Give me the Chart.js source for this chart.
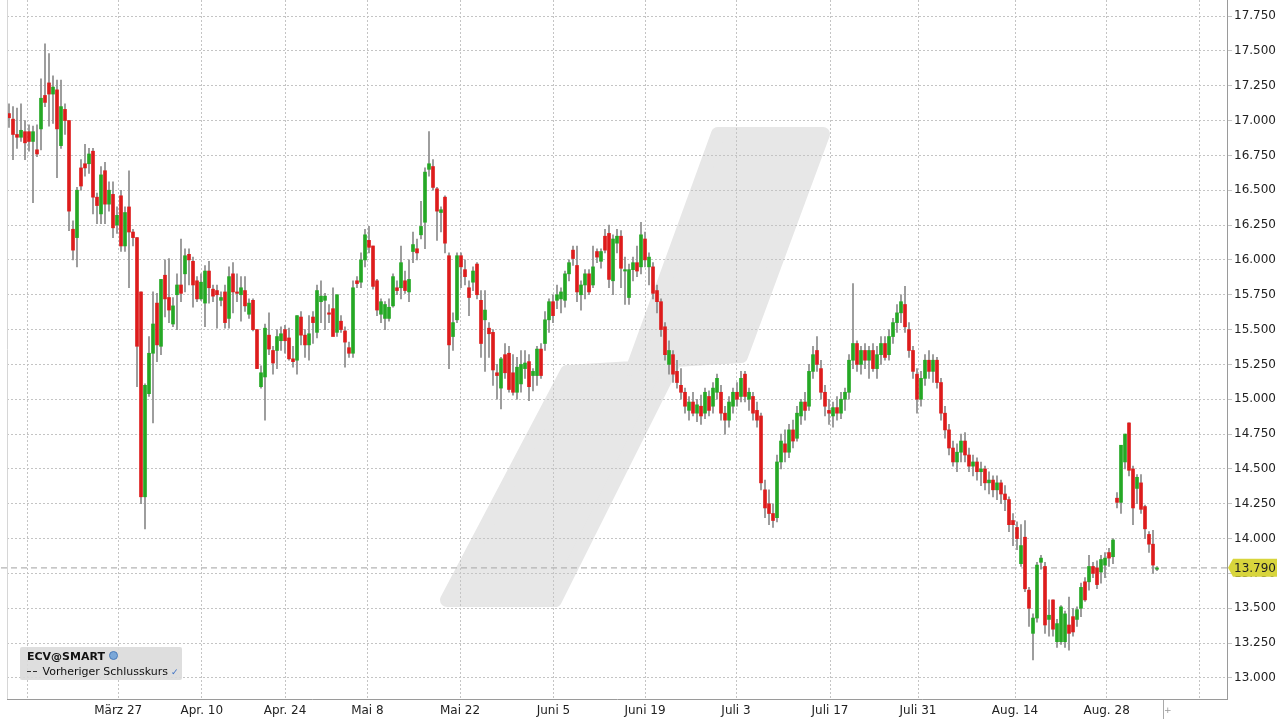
<!DOCTYPE html>
<html>
<head>
<meta charset="utf-8">
<script src="https://cdn.jsdelivr.net/npm/chart.js@4.4.1/dist/chart.umd.min.js"></script>
<style>
    html, body { margin: 0; padding: 0; background: #fff; }
    #wrap { position: relative; width: 1280px; height: 720px; }
    #legendBox {
        position: absolute; left: 20px; top: 647px; width: 162px; height: 33px;
        background: rgba(218, 218, 218, 0.9); border-radius: 2px;
        font-family: "DejaVu Sans", Verdana, sans-serif; font-size: 11px; color: #111;
    }
    #legendBox .l1 { position: absolute; left: 7px; top: 3px; font-weight: bold; }
    #legendBox .l2 { position: absolute; left: 7px; top: 18px; }
    .globe { display: inline-block; width: 7px; height: 7px; border-radius: 50%; background: #7aa7d8; border: 1px solid #4a7ab8; margin-left: 4px; vertical-align: 0px; }
    .dash { display: inline-block; width: 4px; border-top: 1.5px solid #333; vertical-align: 3px; margin-right: 2px; }
    .check { color: #3a6fc4; font-size: 9px; margin-left: 3px; }
</style>
</head>
<body>
<div id="wrap">
    <canvas id="priceChart" width="1280" height="720"></canvas>
    <div id="legendBox">
        <div class="l1">ECV@SMART<span class="globe"></span></div>
        <div class="l2"><span class="dash"></span><span class="dash"></span> Vorheriger Schlusskurs<span class="check">&#10003;</span></div>
    </div>
</div>
<script>
// candle values (one candle every ~4px)
const opens = [
    17.05,17.01,16.90,16.88,16.92,16.92,16.85,16.79,16.94,17.18,17.27,17.19,17.22,16.82,17.08,17.00,16.22,16.16,16.66,16.69,
    16.69,16.78,16.45,16.33,16.64,16.40,16.47,16.25,16.46,16.10,16.38,16.20,16.16,15.77,14.30,15.04,15.33,15.69,15.38,15.89,
    15.73,15.54,15.75,15.82,15.90,16.04,15.99,15.85,15.72,15.69,15.92,15.79,15.78,15.71,15.77,15.58,15.90,15.77,15.75,15.78,
    15.61,15.71,15.50,15.09,15.16,15.46,15.35,15.35,15.42,15.50,15.44,15.29,15.28,15.59,15.46,15.39,15.59,15.48,15.70,15.71,
    15.62,15.65,15.48,15.56,15.49,15.37,15.33,15.85,15.84,16.00,16.14,16.10,15.85,15.61,15.58,15.58,15.67,15.80,15.80,15.85,
    15.77,16.06,16.08,16.18,16.27,16.65,16.67,16.51,16.34,16.45,16.03,15.45,15.57,16.03,15.93,15.80,15.84,15.97,15.71,15.57,
    15.51,15.48,15.19,15.08,15.32,15.33,15.19,15.05,15.11,15.22,15.27,15.17,15.17,15.36,15.40,15.57,15.70,15.71,15.72,15.71,
    15.90,16.07,15.96,15.75,15.82,15.90,15.82,16.06,15.99,16.17,16.19,15.85,16.12,16.17,15.92,15.73,15.93,15.98,15.95,16.15,
    15.95,15.95,15.78,15.70,15.52,15.25,15.32,15.20,15.10,15.05,14.92,14.98,14.90,14.95,14.90,15.02,14.95,15.05,15.05,14.90,
    14.85,14.95,15.05,15.02,15.18,15.00,15.02,14.92,14.88,14.35,14.25,14.18,14.15,14.55,14.68,14.62,14.78,14.72,14.88,14.98,
    14.95,15.20,15.35,15.22,15.05,14.92,14.88,14.94,14.90,15.00,15.05,15.28,15.40,15.25,15.35,15.28,15.35,15.22,15.32,15.40,
    15.32,15.45,15.55,15.62,15.68,15.50,15.35,15.18,15.00,15.15,15.28,15.20,15.28,15.12,14.90,14.78,14.65,14.55,14.62,14.70,
    14.60,14.52,14.55,14.48,14.50,14.40,14.42,14.35,14.40,14.32,14.28,14.13,14.08,13.82,14.01,13.63,13.32,13.43,13.83,13.80,
    13.42,13.56,13.26,13.26,13.26,13.38,13.44,13.42,13.50,13.69,13.69,13.80,13.79,13.76,13.81,13.90,13.87,14.29,14.26,14.55,
    14.83,14.50,14.36,14.40,14.23,14.03,13.96,13.78
];
const highs = [
    17.12,17.10,17.09,17.12,17.00,16.97,16.96,16.97,17.30,17.55,17.48,17.32,17.29,17.29,17.12,17.00,16.28,16.52,16.72,16.83,
    16.80,16.80,16.48,16.67,16.70,16.56,16.56,16.38,16.50,16.38,16.64,16.22,16.16,15.77,15.11,15.45,15.77,15.76,15.86,16.00,
    16.01,15.73,15.90,16.15,16.08,16.08,16.02,15.88,15.90,15.96,15.99,15.82,15.82,15.77,15.82,15.95,15.98,15.90,15.88,15.88,
    15.72,15.72,15.50,15.24,15.54,15.62,15.38,15.50,15.52,15.53,15.51,15.38,15.60,15.63,15.50,15.60,15.63,15.82,15.85,15.76,
    15.68,15.80,15.75,15.60,15.52,15.41,15.85,15.88,16.05,16.22,16.24,16.10,15.86,15.72,15.70,15.72,15.90,15.85,16.10,15.92,
    16.00,16.20,16.15,16.42,16.66,16.92,16.72,16.52,16.38,16.46,16.05,15.62,16.05,16.05,16.00,15.85,15.95,15.98,15.78,15.78,
    15.55,15.50,15.25,15.30,15.40,15.38,15.32,15.30,15.35,15.35,15.32,15.22,15.38,15.40,15.63,15.72,15.75,15.82,15.80,15.92,
    16.00,16.10,16.10,15.85,15.93,15.93,16.10,16.08,16.08,16.22,16.25,16.18,16.22,16.21,16.02,15.97,16.02,16.10,16.27,16.20,
    16.05,15.98,15.82,15.72,15.55,15.42,15.35,15.28,15.22,15.08,15.02,15.05,15.00,15.03,15.08,15.06,15.12,15.18,15.10,14.95,
    15.02,15.08,15.12,15.20,15.20,15.08,15.05,14.98,14.90,14.42,14.35,14.25,14.60,14.75,14.78,14.82,14.85,14.95,15.00,15.05,
    15.25,15.38,15.45,15.28,15.10,15.00,14.98,15.02,15.05,15.08,15.32,15.83,15.42,15.38,15.40,15.38,15.40,15.38,15.45,15.45,
    15.50,15.58,15.68,15.75,15.81,15.55,15.38,15.22,15.20,15.32,15.35,15.32,15.30,15.15,14.95,14.82,14.70,14.68,14.75,14.76,
    14.65,14.60,14.58,14.55,14.52,14.48,14.45,14.45,14.42,14.38,14.30,14.18,14.12,14.10,14.13,13.65,13.46,13.83,13.88,13.83,
    13.56,13.56,13.42,13.52,13.48,13.58,13.50,13.51,13.68,13.72,13.88,13.83,13.84,13.88,13.90,13.93,14.00,14.33,14.67,14.75,
    14.83,14.52,14.46,14.46,14.24,14.05,14.06,13.80
];
const lows = [
    16.95,16.72,16.80,16.85,16.72,16.78,16.41,16.74,16.79,17.10,16.96,16.98,16.59,16.80,16.90,16.21,16.00,15.95,16.50,16.60,
    16.62,16.33,16.26,16.26,16.26,16.35,16.16,16.19,16.06,16.06,15.80,16.10,15.09,14.25,14.07,15.02,14.83,15.27,15.32,15.59,
    15.55,15.52,15.50,15.70,15.77,15.82,15.66,15.70,15.71,15.52,15.69,15.70,15.51,15.67,15.51,15.51,15.62,15.70,15.56,15.63,
    15.58,15.49,15.22,15.08,14.85,15.32,15.18,15.22,15.35,15.33,15.28,15.23,15.18,15.39,15.30,15.28,15.40,15.44,15.55,15.50,
    15.55,15.47,15.45,15.48,15.23,15.30,15.30,15.80,15.80,15.95,16.05,15.79,15.60,15.55,15.50,15.56,15.66,15.75,15.72,15.76,
    15.70,15.98,16.00,16.15,16.08,16.60,16.50,16.14,16.20,16.05,15.22,15.35,15.55,15.80,15.82,15.60,15.78,15.72,15.30,15.20,
    15.30,15.10,15.00,14.93,15.15,15.05,15.03,15.00,15.05,15.15,14.99,15.06,15.10,15.15,15.35,15.48,15.55,15.65,15.62,15.66,
    15.85,15.96,15.70,15.64,15.72,15.75,15.80,15.98,15.94,16.05,15.80,15.75,16.05,15.80,15.68,15.68,15.85,15.88,15.90,15.95,
    15.82,15.72,15.62,15.45,15.28,15.18,15.12,15.08,15.00,14.90,14.85,14.88,14.84,14.82,14.86,14.88,14.90,15.00,14.85,14.75,
    14.80,14.90,14.95,14.98,14.98,14.92,14.85,14.80,14.35,14.15,14.10,14.08,14.12,14.50,14.55,14.58,14.65,14.70,14.82,14.85,
    14.92,15.15,15.20,15.00,14.88,14.82,14.80,14.85,14.86,14.92,15.00,15.22,15.20,15.18,15.22,15.15,15.20,15.15,15.25,15.28,
    15.28,15.40,15.48,15.55,15.48,15.30,15.15,14.90,14.95,15.10,15.15,15.12,15.08,14.85,14.72,14.60,14.52,14.48,14.55,14.55,
    14.48,14.45,14.42,14.38,14.35,14.32,14.30,14.28,14.25,14.20,14.05,13.95,13.92,13.80,13.62,13.37,13.13,13.40,13.78,13.32,
    13.30,13.30,13.22,13.24,13.22,13.20,13.30,13.37,13.44,13.55,13.63,13.72,13.64,13.68,13.72,13.80,13.82,14.22,14.18,14.50,
    14.45,14.10,14.25,14.18,14.00,13.90,13.75,13.77
];
const closes = [
    17.02,16.90,16.88,16.93,16.84,16.85,16.92,16.76,17.16,17.13,17.19,17.24,16.94,17.10,17.00,16.35,16.07,16.50,16.53,16.66,
    16.76,16.45,16.39,16.61,16.40,16.50,16.23,16.32,16.10,16.34,16.20,16.16,15.38,14.30,15.10,15.33,15.54,15.39,15.86,15.72,
    15.64,15.67,15.82,15.76,16.03,16.00,15.82,15.72,15.84,15.92,15.80,15.74,15.75,15.73,15.55,15.88,15.77,15.76,15.80,15.67,
    15.69,15.50,15.22,15.19,15.51,15.36,15.26,15.45,15.47,15.42,15.29,15.27,15.60,15.46,15.39,15.47,15.55,15.78,15.74,15.74,
    15.61,15.45,15.75,15.50,15.41,15.33,15.80,15.83,16.00,16.18,16.09,15.81,15.64,15.70,15.68,15.66,15.88,15.78,15.98,15.78,
    15.86,16.11,16.05,16.24,16.63,16.69,16.52,16.35,16.36,16.12,15.39,15.55,16.03,15.95,15.88,15.73,15.92,15.75,15.40,15.64,
    15.47,15.21,15.17,15.29,15.19,15.07,15.05,15.23,15.25,15.26,15.09,15.20,15.36,15.17,15.57,15.70,15.60,15.75,15.77,15.90,
    15.98,16.01,15.77,15.82,15.90,15.77,15.95,16.02,16.06,16.07,15.86,16.15,16.17,15.94,15.93,15.93,15.98,15.92,16.18,16.00,
    16.02,15.76,15.70,15.50,15.32,15.35,15.18,15.12,15.05,14.95,14.98,14.90,14.96,14.88,15.05,14.92,15.08,15.15,14.90,14.85,
    14.98,15.05,15.00,15.15,15.02,15.05,14.90,14.85,14.40,14.22,14.18,14.13,14.55,14.70,14.62,14.78,14.70,14.90,14.98,14.92,
    15.20,15.32,15.25,15.05,14.95,14.90,14.94,14.90,15.00,15.05,15.28,15.40,15.25,15.35,15.28,15.35,15.22,15.32,15.40,15.30,
    15.45,15.55,15.62,15.70,15.52,15.35,15.20,15.00,15.15,15.28,15.20,15.28,15.12,14.90,14.78,14.65,14.55,14.62,14.70,14.60,
    14.52,14.55,14.48,14.50,14.40,14.42,14.35,14.40,14.32,14.28,14.10,14.10,14.00,13.95,13.64,13.50,13.43,13.81,13.86,13.38,
    13.45,13.35,13.39,13.51,13.46,13.32,13.33,13.49,13.65,13.56,13.80,13.75,13.67,13.85,13.86,13.86,13.99,14.26,14.67,14.75,
    14.49,14.22,14.44,14.21,14.07,13.96,13.81,13.79
];

const prevClose = 13.79;

// x axis: gridline positions (candle index units) and their labels
const tickPos = [4.5, 27.3, 48.2, 69, 89.6, 112.75, 136.1, 159, 181.75, 205.25, 227.25, 251.5, 274.4, 297.6];
const tickLabels = ['', 'März 27', 'Apr. 10', 'Apr. 24', 'Mai 8', 'Mai 22', 'Juni 5', 'Juni 19', 'Juli 3', 'Juli 17', 'Juli 31', 'Aug. 14', 'Aug. 28', ''];
const priceTicks = [13.0, 13.25, 13.5, 13.75, 14.0, 14.25, 14.5, 14.75, 15.0, 15.25, 15.5, 15.75, 16.0, 16.25, 16.5, 16.75, 17.0, 17.25, 17.5, 17.75];

const UP = '#25a825';
const DOWN = '#dd1c1c';
const FONT = '"DejaVu Sans", Verdana, sans-serif';

const bodies = opens.map((o, i) => ({ x: i, y: [o, closes[i]] }));
const wicks = opens.map((o, i) => ({ x: i, y: [lows[i], highs[i]] }));
const bodyColors = opens.map((o, i) => closes[i] >= o ? UP : DOWN);

const decorations = {
    id: 'decorations',
    beforeDraw(chart) {
        // watermark logo behind everything
        const ctx = chart.ctx;
        ctx.save();
        ctx.fillStyle = '#e7e7e7';
        ctx.strokeStyle = '#e7e7e7';
        ctx.lineJoin = 'round';
        ctx.lineWidth = 14;
        ctx.beginPath();
        ctx.moveTo(718, 134);
        ctx.lineTo(823, 134);
        ctx.lineTo(741, 356);
        ctx.lineTo(675, 360);
        ctx.lineTo(555, 600);
        ctx.lineTo(447, 600);
        ctx.lineTo(567, 372);
        ctx.lineTo(633, 368);
        ctx.closePath();
        ctx.fill();
        ctx.stroke();
        ctx.restore();
    },
    afterDraw(chart) {
        const ctx = chart.ctx;
        const area = chart.chartArea;
        const y = chart.scales.y.getPixelForValue(prevClose);
        ctx.save();
        // faint left edge
        ctx.strokeStyle = '#d6d6d6';
        ctx.lineWidth = 1;
        ctx.beginPath();
        ctx.moveTo(area.left + 0.5, area.top);
        ctx.lineTo(area.left + 0.5, area.bottom);
        ctx.stroke();
        // small marker under the x axis
        ctx.strokeStyle = '#aaa';
        ctx.beginPath();
        ctx.moveTo(1163.5, area.bottom + 1);
        ctx.lineTo(1163.5, 719);
        ctx.stroke();
        ctx.fillStyle = '#999';
        ctx.font = '9px ' + FONT;
        ctx.textBaseline = 'middle';
        ctx.fillText('+', 1164, 711);
        // price tag for previous close
        ctx.fillStyle = '#d8d53c';
        ctx.beginPath();
        ctx.moveTo(1228, y);
        ctx.lineTo(1233, y - 9);
        ctx.lineTo(1277, y - 9);
        ctx.lineTo(1277, y + 9);
        ctx.lineTo(1233, y + 9);
        ctx.closePath();
        ctx.fill();
        ctx.fillStyle = '#222';
        ctx.font = '12px ' + FONT;
        ctx.textAlign = 'left';
        ctx.fillText(prevClose.toFixed(3), 1234, y + 1);
        ctx.restore();
    }
};

new Chart(document.getElementById('priceChart').getContext('2d'), {
    data: {
        datasets: [
            {
                type: 'line',
                label: 'Vorheriger Schlusskurs',
                data: [{ x: -2, y: prevClose }, { x: 304.5, y: prevClose }],
                borderColor: '#b4b4b4',
                borderWidth: 1.2,
                borderDash: [6, 4],
                pointRadius: 0,
                clip: false,
                order: 3
            },
            {
                type: 'bar',
                label: 'wick',
                data: wicks,
                backgroundColor: '#8a8a8a',
                barThickness: 1,
                grouped: false,
                order: 2
            },
            {
                type: 'bar',
                label: 'ECV@SMART',
                data: bodies,
                backgroundColor: bodyColors,
                barThickness: 3,
                minBarLength: 1,
                grouped: false,
                order: 1
            }
        ]
    },
    options: {
        responsive: false,
        animation: false,
        layout: { padding: { left: 7, top: 0, right: 0, bottom: 0 } },
        plugins: { legend: { display: false }, tooltip: { enabled: false } },
        scales: {
            x: {
                type: 'linear',
                offset: false,
                min: -0.5,
                max: 304.5,
                afterBuildTicks: s => { s.ticks = tickPos.map(v => ({ value: v })); },
                afterFit: s => { s.height = 21; s.paddingLeft = 0; s.paddingRight = 0; },
                ticks: {
                    autoSkip: false,
                    maxRotation: 0,
                    padding: 5,
                    color: '#222',
                    font: { family: FONT, size: 12 },
                    callback: (v, idx) => tickLabels[idx]
                },
                grid: { color: '#c4c4c4', drawTicks: false, offset: false },
                border: { display: true, color: '#9a9a9a', dash: [2, 2] }
            },
            y: {
                position: 'right',
                min: 12.849,
                max: 17.865,
                afterBuildTicks: s => { s.ticks = priceTicks.map(v => ({ value: v })); },
                afterFit: s => { s.width = 53; s.paddingTop = 0; s.paddingBottom = 0; },
                ticks: {
                    padding: 2,
                    color: '#222',
                    font: { family: FONT, size: 12 },
                    callback: v => Number(v).toFixed(3)
                },
                grid: { color: '#c4c4c4', tickLength: 5 },
                border: { display: true, color: '#9a9a9a', dash: [2, 2] }
            }
        }
    },
    plugins: [decorations]
});
</script>
</body>
</html>
